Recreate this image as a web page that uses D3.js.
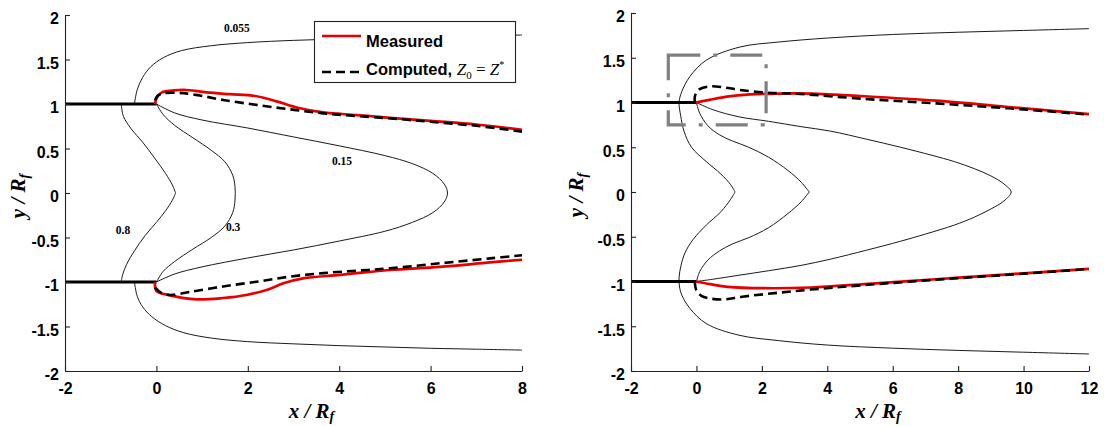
<!DOCTYPE html>
<html><head><meta charset="utf-8">
<script src="https://cdn.jsdelivr.net/npm/d3@7"></script>
<style>body{margin:0;background:#fff}</style>
</head><body><svg id="c" width="1104" height="426"></svg>
<script>
// ---------- data ----------
const yTicks = [-2,-1.5,-1,-0.5,0,0.5,1,1.5,2];
const xTicksLeft = [-2,0,2,4,6,8];
const xTicksRight = [-2,0,2,4,6,8,10,12];

// Left panel contours (x/Rf, y/Rf)
const L_c055Upper = [[-0.48,1.0],[-0.42,1.16],[-0.3,1.3],[-0.12,1.42],[0.15,1.52],[0.55,1.6],[1.2,1.655],[2,1.69],[3,1.715],[4,1.73],[5,1.745],[6,1.755],[7,1.765],[8,1.775]];
const L_c055Lower = [[-0.48,-1.0],[-0.42,-1.16],[-0.3,-1.28],[-0.1,-1.39],[0.2,-1.49],[0.6,-1.57],[1.2,-1.63],[2,-1.67],[3,-1.695],[4,-1.715],[5,-1.73],[6,-1.745],[7,-1.755],[8,-1.765]];
const L_c08Upper = [[-0.77,1],[-0.72,0.86],[-0.55,0.72],[-0.3,0.57],[-0.05,0.4],[0.2,0.22],[0.35,0.09],[0.42,0]];
const L_c08Lower = [[0.42,0],[0.35,-0.08],[0.2,-0.2],[0.0,-0.33],[-0.25,-0.48],[-0.48,-0.65],[-0.65,-0.8],[-0.74,-0.92],[-0.77,-1]];
const L_c03 = [[0,1],[0.15,0.88],[0.4,0.76],[0.8,0.62],[1.2,0.48],[1.5,0.35],[1.67,0.2],[1.72,0.07],[1.72,-0.08],[1.67,-0.22],[1.5,-0.37],[1.2,-0.5],[0.8,-0.63],[0.4,-0.77],[0.15,-0.88],[0,-1]];
const L_c015 = [[0,1],[0.4,0.9],[1,0.82],[2,0.73],[3,0.63],[4,0.53],[5,0.42],[5.6,0.33],[6.05,0.22],[6.3,0.1],[6.37,0],[6.3,-0.1],[6.05,-0.22],[5.6,-0.33],[5,-0.43],[4,-0.54],[3,-0.64],[2,-0.73],[1,-0.83],[0.4,-0.91],[0,-1]];
const L_measUpper = [[-0.03,1.0],[0.0,1.06],[0.12,1.13],[0.35,1.15],[0.6,1.16],[1.1,1.13],[1.6,1.11],[2.16,1.09],[2.63,1.03],[3.07,0.96],[3.65,0.905],[4.38,0.876],[5.11,0.845],[6,0.81],[7,0.77],[8,0.71]];
const L_compUpper = [[-0.03,1.04],[0.02,1.09],[0.15,1.12],[0.5,1.125],[0.9,1.1],[1.46,1.045],[2.19,0.99],[2.92,0.94],[3.65,0.895],[4.38,0.865],[5.2,0.835],[6,0.8],[7,0.755],[8,0.69]];
const L_measLower = [[-0.03,-1.0],[0.0,-1.1],[0.3,-1.15],[0.88,-1.195],[1.46,-1.18],[1.97,-1.146],[2.41,-1.09],[2.78,-1.015],[3.21,-0.96],[4.02,-0.92],[5.11,-0.865],[6.2,-0.83],[7.3,-0.78],[8,-0.75]];
const L_compLower = [[-0.03,-1.06],[0.1,-1.12],[0.3,-1.146],[0.74,-1.11],[1.46,-1.05],[2.19,-0.997],[2.92,-0.94],[3.65,-0.9],[4.38,-0.873],[5.11,-0.846],[6.2,-0.79],[7.3,-0.735],[8,-0.70]];
const L_labels = [{t:"0.055",x:1.76,y:1.85},{t:"0.15",x:4.06,y:0.36},{t:"0.8",x:-0.73,y:-0.42},{t:"0.3",x:1.68,y:-0.38}];

// Right panel contours
const R_outerUpper = [[12,1.825],[10,1.805],[8,1.785],[6,1.76],[4,1.72],[2.5,1.675],[1.33,1.62],[0.31,1.475],[-0.2,1.29],[-0.45,1.12],[-0.53,1.0],[-0.48,0.85],[-0.38,0.68],[-0.15,0.5],[0.3,0.34],[0.75,0.2],[1.05,0.08],[1.18,0]];
const R_outerLower = [[1.18,0],[1.05,-0.08],[0.75,-0.22],[0.3,-0.37],[-0.1,-0.53],[-0.35,-0.68],[-0.47,-0.82],[-0.53,-0.95],[-0.52,-1.05],[-0.45,-1.15],[-0.2,-1.3],[0.3,-1.47],[1.3,-1.6],[2.5,-1.66],[4,-1.71],[6,-1.745],[8,-1.77],[10,-1.79],[12,-1.81]];
const R_c03Upper = [[0,1],[0.1,0.88],[0.35,0.74],[0.7,0.64],[1.1,0.57],[1.6,0.5],[2.2,0.39],[2.8,0.24],[3.2,0.11],[3.45,0]];
const R_c03Lower = [[3.45,0],[3.2,-0.11],[2.8,-0.24],[2.2,-0.4],[1.6,-0.51],[1.1,-0.58],[0.7,-0.66],[0.35,-0.76],[0.1,-0.89],[0,-1]];
const R_c015 = [[0,1],[0.5,0.92],[1.3,0.84],[2.2,0.79],[3.2,0.73],[4.1,0.68],[5.2,0.59],[6.24,0.5],[7.2,0.41],[7.88,0.34],[8.5,0.26],[9,0.18],[9.4,0.09],[9.62,0],[9.4,-0.1],[9,-0.19],[8.5,-0.28],[7.88,-0.37],[7,-0.47],[6.24,-0.55],[5.2,-0.65],[4.1,-0.75],[3.2,-0.82],[2.2,-0.88],[1.3,-0.93],[0.5,-0.975],[0,-1]];
const R_measUpper = [[-0.02,1.0],[0.4,1.03],[0.93,1.065],[1.64,1.09],[2.5,1.1],[3.5,1.1],[5.14,1.07],[7.33,1.02],[9.53,0.95],[12,0.87]];
const R_compUpper = [[-0.05,1.0],[-0.04,1.08],[0.1,1.15],[0.42,1.18],[0.82,1.17],[1.33,1.14],[2.15,1.11],[3.17,1.095],[5.14,1.04],[7.33,0.99],[9.53,0.935],[12,0.865]];
const R_measLower = [[-0.02,-1.0],[0.42,-1.03],[0.96,-1.06],[2.06,-1.075],[3.49,-1.067],[5.14,-1.03],[7.33,-0.975],[9.53,-0.92],[12,-0.86]];
const R_compLower = [[-0.05,-1.0],[0.0,-1.1],[0.15,-1.16],[0.42,-1.19],[0.86,-1.2],[1.4,-1.17],[2.39,-1.13],[3.49,-1.09],[5.14,-1.04],[7.33,-0.98],[9.53,-0.925],[12,-0.86]];
const R_zoomBox = {x0:-0.86, x1:2.13, y0:0.75, y1:1.53};

const nozzleUpper = [[-2,1],[0,1]];
const nozzleLower = [[-2,-1],[0,-1]];

const legendItems = ["Measured","Computed,"];

// ---------- drawing ----------
const svg = d3.select('#c');
const RED = "#e60000";
const smooth = d3.curveCatmullRom.alpha(0.5);

function drawPanel(p){
  const x = d3.scaleLinear().domain(p.xDomain).range(p.xRange);
  const y = d3.scaleLinear().domain([-2,2]).range(p.yRange);
  const g = svg.append('g');
  const line = d3.line().x(d=>x(d[0])).y(d=>y(d[1])).curve(smooth);
  const lin = d3.line().x(d=>x(d[0])).y(d=>y(d[1]));

  p.contours.forEach(c=>{
    g.append('path').attr('d', line(c)).attr('fill','none').attr('stroke','#1a1a1a').attr('stroke-width',1);
  });
  [nozzleUpper, nozzleLower].forEach(n=>{
    g.append('path').attr('d', lin(n)).attr('stroke','#000').attr('stroke-width',3.2).attr('fill','none');
  });
  p.measured.forEach(c=>{
    g.append('path').attr('d', line(c)).attr('fill','none').attr('stroke',RED).attr('stroke-width',2.7);
  });
  p.computed.forEach(c=>{
    g.append('path').attr('d', line(c)).attr('fill','none').attr('stroke','#000').attr('stroke-width',2.6).attr('stroke-dasharray','9,5');
  });

  const xAxis = d3.axisBottom(x).tickValues(p.xTicks).tickFormat(d=>String(d)).tickSizeInner(-5).tickSizeOuter(0).tickPadding(12);
  const yAxis = d3.axisLeft(y).tickValues(yTicks).tickFormat(d=>String(d)).tickSizeInner(-5).tickSizeOuter(0).tickPadding(6);
  const gx = g.append('g').attr('transform',`translate(0,${p.yRange[0]})`).call(xAxis);
  const gy = g.append('g').attr('transform',`translate(${p.xRange[0]},0)`).call(yAxis);
  [gx,gy].forEach(a=>{
    a.selectAll('path,line').attr('stroke','#222').attr('stroke-width',1.1);
    a.selectAll('text').attr('font-family','Liberation Sans, Arial, sans-serif').attr('font-weight','bold').attr('font-size',16).attr('fill','#000');
  });
  gy.selectAll('text').attr('dy','0.55em');

  const xc = (p.xRange[0]+p.xRange[1])/2 + 18;
  const xt = g.append('text').attr('x',xc).attr('y',418).attr('text-anchor','middle')
    .attr('font-family','Liberation Serif, Times New Roman, serif').attr('font-weight','bold').attr('font-style','italic').attr('font-size',21);
  xt.append('tspan').text('x / R');
  xt.append('tspan').attr('font-size',14).attr('dy',3).text('f');
  const yt = g.append('text').attr('transform',`translate(${p.xRange[0]-p.yTitleOff},${(p.yRange[0]+p.yRange[1])/2+3}) rotate(-90)`).attr('text-anchor','middle')
    .attr('font-family','Liberation Serif, Times New Roman, serif').attr('font-weight','bold').attr('font-style','italic').attr('font-size',21);
  yt.append('tspan').text('y / R');
  yt.append('tspan').attr('font-size',14).attr('dy',4).text('f');

  (p.labels||[]).forEach(l=>{
    g.append('text').attr('x',x(l.x)).attr('y',y(l.y)).attr('dy','0.35em').attr('text-anchor','middle')
      .attr('font-family','Liberation Serif, Times New Roman, serif').attr('font-weight','bold').attr('font-size',11.5).text(l.t);
  });

  if (p.box){
    const b = p.box;
    g.append('rect').attr('x',x(b.x0)).attr('y',y(b.y1)).attr('width',x(b.x1)-x(b.x0)).attr('height',y(b.y0)-y(b.y1))
      .attr('fill','none').attr('stroke','#808080').attr('stroke-width',3.2).attr('stroke-dasharray','32,13,4,13');
  }
  return {x,y,g};
}

drawPanel({
  xDomain:[-2,8], xRange:[65,522], yRange:[371,15], xTicks:xTicksLeft, yTitleOff:40,
  contours:[L_c055Upper,L_c055Lower,L_c08Upper,L_c08Lower,L_c03,L_c015],
  measured:[L_measUpper,L_measLower], computed:[L_compUpper,L_compLower],
  labels:L_labels
});
drawPanel({
  xDomain:[-2,12], xRange:[631,1089], yRange:[371,13], xTicks:xTicksRight, yTitleOff:48,
  contours:[R_outerUpper,R_outerLower,R_c03Upper,R_c03Lower,R_c015],
  measured:[R_measUpper,R_measLower], computed:[R_compUpper,R_compLower],
  box:R_zoomBox
});

// legend (left panel)
const lg = svg.append('g');
lg.append('rect').attr('x',314.5).attr('y',21.5).attr('width',201).attr('height',61).attr('fill','#fff').attr('stroke','#222').attr('stroke-width',1.1);
lg.append('line').attr('x1',322).attr('x2',361).attr('y1',36).attr('y2',36).attr('stroke',RED).attr('stroke-width',2.4);
lg.append('line').attr('x1',322).attr('x2',361).attr('y1',72).attr('y2',72).attr('stroke','#000').attr('stroke-width',2.4).attr('stroke-dasharray','9,5');
lg.append('text').attr('x',366).attr('y',47).attr('font-family','Liberation Sans, Arial, sans-serif').attr('font-weight','bold').attr('font-size',16.5).text(legendItems[0]);
const t2 = lg.append('text').attr('x',366).attr('y',75).attr('font-family','Liberation Sans, Arial, sans-serif').attr('font-weight','bold').attr('font-size',16.5);
t2.append('tspan').text(legendItems[1]+' ');
t2.append('tspan').attr('font-family','Liberation Serif, Times New Roman, serif').attr('font-weight','normal').attr('font-style','italic').attr('font-size',17).text('Z');
t2.append('tspan').attr('font-family','Liberation Serif, Times New Roman, serif').attr('font-weight','normal').attr('font-size',11).attr('dy',4).text('0');
t2.append('tspan').attr('font-family','Liberation Serif, Times New Roman, serif').attr('font-weight','normal').attr('font-size',17).attr('dy',-4).text(' = ');
t2.append('tspan').attr('font-family','Liberation Serif, Times New Roman, serif').attr('font-weight','normal').attr('font-style','italic').attr('font-size',17).text('Z');
t2.append('tspan').attr('font-family','Liberation Serif, Times New Roman, serif').attr('font-weight','normal').attr('font-size',10).attr('dy',-7).text('*');
</script></body></html>
